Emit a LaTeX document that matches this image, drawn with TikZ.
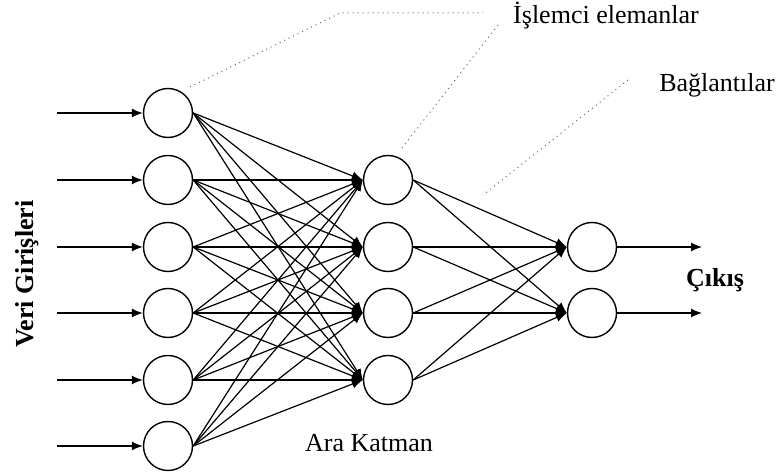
\documentclass[tikz,border=0pt]{standalone}
\usepackage{fontspec}
\setmainfont{Liberation Serif}
\usetikzlibrary{positioning, arrows.meta}

\tikzset{
	noron/.style={circle, draw, line width=0.7pt, minimum size=24.5pt, inner sep=0pt},
	bag/.style={-{Latex[length=5.5pt,width=4.5pt]}, line width=0.6pt},
	kilavuz/.style={draw=black!60, dotted, line width=0.5pt},
	yazi/.style={font=\fontsize{13}{15}\selectfont},
	kalin/.style={font=\fontsize{13}{15}\selectfont\bfseries}
}

\begin{document}
\begin{tikzpicture}[x=0.5pt, y=-0.5pt]
		
		\useasboundingbox (0,0) rectangle (776,474);
		
		%Input layer with the incoming data
		\foreach \i/\yy in {1/113,2/180,3/247,4/313,5/380,6/446}{
			\node[noron] (giris\i) at (168,\yy) {};
			\coordinate (veri\i) at (57,\yy);
			\draw[bag] (veri\i) -- (giris\i);
		}
		
		%Hidden layer
		\foreach \j/\yy in {1/180,2/247,3/313,4/380}{
			\node[noron] (ara\j) at (388,\yy) {};
		}
		
		%Output layer
		\foreach \k/\yy in {1/247,2/313}{
			\node[noron] (cikis\k) at (592,\yy) {};
			\coordinate (son\k) at (702,\yy);
			\draw[bag] (cikis\k) -- (son\k);
		}
		
		%Connections input -> hidden
		\foreach \i in {1,...,6}
			\foreach \j in {1,...,4}
				\draw[bag] (giris\i.east) -- (ara\j.west);
		
		%Connections hidden -> output
		\foreach \j in {1,...,4}
			\foreach \k in {1,2}
				\draw[bag] (ara\j.east) -- (cikis\k.west);
		
		%Labels
		\node[yazi] (islemci) at (606,16) {İşlemci elemanlar};
		\node[yazi] (baglanti) at (717,85) {Bağlantılar};
		\node[kalin] (cikisYazi) at (715,280) {Çıkış};
		\node[yazi] (araKatman) at (369,443) {Ara Katman};
		\node[kalin, rotate=90] (veriGiris) at (27,274) {Veri Girişleri};
		
		%Dotted leader lines
		\coordinate (k1) at (190,87);
		\coordinate (k2) at (340,13);
		\coordinate (k3) at (483,13);
		\draw[kilavuz] (k1) -- (k2) -- (k3);
		
		\coordinate (k4) at (498,25);
		\coordinate (k5) at (402,148);
		\draw[kilavuz] (k4) -- (k5);
		
		\coordinate (k6) at (628,80);
		\coordinate (k7) at (483,195);
		\draw[kilavuz] (k6) -- (k7);
		
\end{tikzpicture}
\end{document}
